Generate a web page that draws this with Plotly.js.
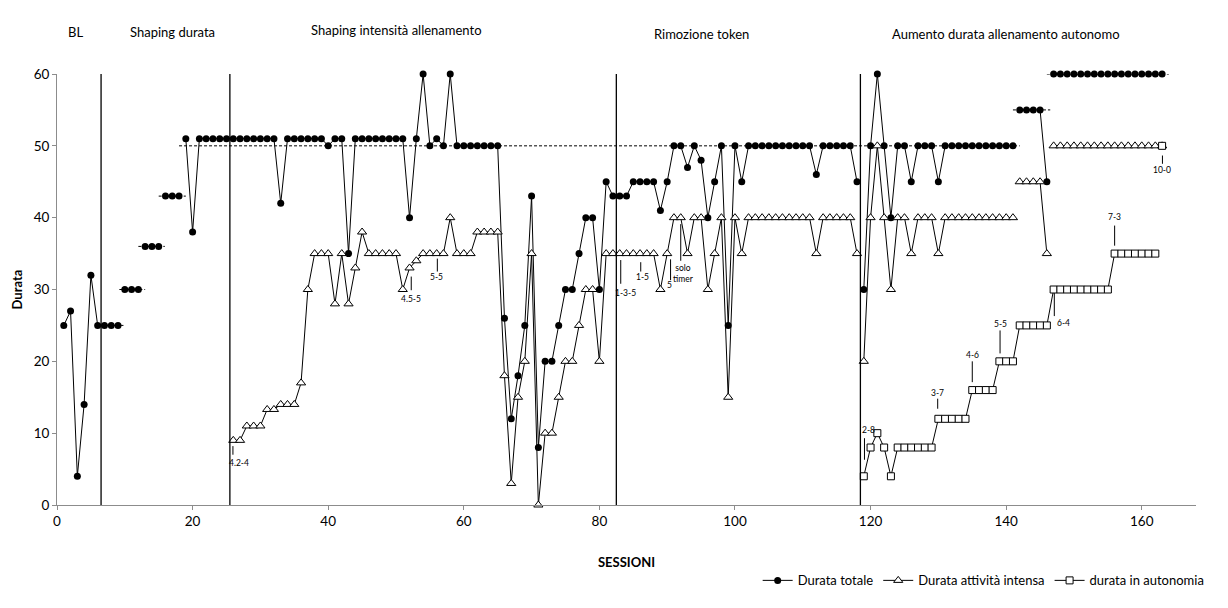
<!DOCTYPE html>
<html>
<head>
<meta charset="utf-8">
<script src="https://cdn.plot.ly/plotly-3.0.1.min.js"></script>
<style>html,body{margin:0;padding:0;background:#fff;}#chart{width:1228px;height:608px;}</style>
</head>
<body>
<div id="chart"></div>
<script>
// ---- DATA ----
// Sessions 1..163
const durataTotale = [
  25,27,4,14,32,25,25,25,25,30,
  30,30,36,36,36,43,43,43,51,38,
  51,51,51,51,51,51,51,51,51,51,
  51,51,42,51,51,51,51,51,51,50,
  51,51,35,51,51,51,51,51,51,51,
  51,40,51,60,50,51,50,60,50,50,
  50,50,50,50,50,26,12,18,25,43,
  8,20,20,25,30,30,35,40,40,30,
  45,43,43,43,45,45,45,45,41,45,
  50,50,47,50,48,40,45,50,25,50,
  45,50,50,50,50,50,50,50,50,50,
  50,46,50,50,50,50,50,45,30,50,
  60,50,40,50,50,45,50,50,50,45,
  50,50,50,50,50,50,50,50,50,50,
  50,55,55,55,55,45,60,60,60,60,
  60,60,60,60,60,60,60,60,60,60,
  60,60,60
];
const durataIntensa = [
  null,null,null,null,null,null,null,null,null,null,
  null,null,null,null,null,null,null,null,null,null,
  null,null,null,null,null,9,9,11,11,11,
  13.3,13.3,14,14,14,17,30,35,35,35,
  28,35,28,33,38,35,35,35,35,35,
  30,33,34,35,35,35,35,40,35,35,
  35,38,38,38,38,18,3,15,20,35,
  0,10,10,15,20,20,25,30,30,20,
  35,35,35,35,35,35,35,35,30,35,
  40,40,35,40,40,30,35,40,15,40,
  35,40,40,40,40,40,40,40,40,40,
  40,35,40,40,40,40,40,35,20,40,
  50,40,30,40,40,35,40,40,40,35,
  40,40,40,40,40,40,40,40,40,40,
  40,45,45,45,45,35,50,50,50,50,
  50,50,50,50,50,50,50,50,50,50,
  50,50,50
];
const durataAutonomia = [
  null,null,null,null,null,null,null,null,null,null,
  null,null,null,null,null,null,null,null,null,null,
  null,null,null,null,null,null,null,null,null,null,
  null,null,null,null,null,null,null,null,null,null,
  null,null,null,null,null,null,null,null,null,null,
  null,null,null,null,null,null,null,null,null,null,
  null,null,null,null,null,null,null,null,null,null,
  null,null,null,null,null,null,null,null,null,null,
  null,null,null,null,null,null,null,null,null,null,
  null,null,null,null,null,null,null,null,null,null,
  null,null,null,null,null,null,null,null,null,null,
  null,null,null,null,null,null,null,null,4,8,
  10,8,4,8,8,8,8,8,8,12,
  12,12,12,12,16,16,16,16,20,20,
  20,25,25,25,25,25,30,30,30,30,
  30,30,30,30,30,35,35,35,35,35,
  35,35,50
];
// sessions after which the line is interrupted
const interruzioniTotale = [9,12,15,18,118,141,146];
const interruzioniIntensa = [118,141,146];
const interruzioniAutonomia = [162];

// criterion (dashed) levels and their session spans
const criterioLivello = [25, 30, 36, 43, 50, 55, 60];
const criterioDa      = [6.5, 9.2, 12, 15, 18, 141, 146];
const criterioA       = [9.8, 13, 15.9, 19, 142, 146.5, 164];

// phase changes
const cambiFase = [6.5, 25.5, 82.5, 118.5];
const fasi = ['BL', 'Shaping durata', 'Shaping intensità allenamento', 'Rimozione token', 'Aumento durata allenamento autonomo'];

const xTicks = [0, 20, 40, 60, 80, 100, 120, 140, 160];
const yTicks = [0, 10, 20, 30, 40, 50, 60];

// ---- BUILD ----
function serie(vals, breaks) {
  const x = [], y = [];
  vals.forEach((v, i) => {
    const s = i + 1;
    if (v === null) return;
    x.push(s); y.push(v);
    if (breaks.includes(s)) { x.push(s + 0.5); y.push(null); }
  });
  return {x, y};
}
const tot = serie(durataTotale, interruzioniTotale);
const inte = serie(durataIntensa, interruzioniIntensa);
const aut = serie(durataAutonomia, interruzioniAutonomia);

const cx = [], cy = [];
criterioLivello.forEach((lv, i) => {
  cx.push(criterioDa[i], criterioA[i], null);
  cy.push(lv, lv, null);
});

const FONT = 'Lato, "Open Sans", "DejaVu Sans", sans-serif';

const traces = [
  {x: cx, y: cy, mode: 'lines', showlegend: false, hoverinfo: 'skip',
   line: {color: '#000', width: 1, dash: '3px,2px'}, cliponaxis: false},
  {x: tot.x, y: tot.y, name: 'Durata totale', mode: 'lines+markers', cliponaxis: false,
   line: {color: '#000', width: 1},
   marker: {symbol: 'circle', size: 7, color: '#000', line: {color: '#000', width: 0}}},
  {x: inte.x, y: inte.y, name: 'Durata attività intensa', mode: 'lines+markers', cliponaxis: false,
   line: {color: '#000', width: 1},
   marker: {symbol: 'triangle-up', size: 8, color: '#fff', line: {color: '#000', width: 1}}},
  {x: aut.x, y: aut.y, name: 'durata in autonomia', mode: 'lines+markers', cliponaxis: false,
   line: {color: '#000', width: 1},
   marker: {symbol: 'square', size: 7, color: '#fff', line: {color: '#000', width: 1}}}
];

// layout positions for the small notes
const note = [
  {t: '4.2-4', x: 25.95, y1: 8.2, y2: 7.0, tx: 26.9, ty: 5.9},
  {t: '4.5-5', x: 52.25, y1: 31.8, y2: 29.9, tx: 52.25, ty: 28.7},
  {t: '5-5', x: 56.1, y1: 34.3, y2: 32.5, tx: 56.0, ty: 31.7},
  {t: '1-3-5', x: 83.15, y1: 34.1, y2: 30.8, tx: 83.9, ty: 29.5},
  {t: '1-5', x: 86.1, y1: 33.8, y2: 32.5, tx: 86.3, ty: 31.7},
  {t: '5', x: 90.5, y1: 34.2, y2: 31.3, tx: 90.4, ty: 30.6},
  {t: 'solo<br>timer', x: 92.0, y1: 39.1, y2: 34.0, tx: 92.4, ty: 32.2},
  {t: '2-8', x: 119.1, y1: 9.3, y2: 6.3, tx: 119.7, ty: 10.4},
  {t: '3-7', x: 129.9, y1: 14.8, y2: 13.4, tx: 129.9, ty: 15.6},
  {t: '4-6', x: 135.0, y1: 20.0, y2: 17.1, tx: 135.0, ty: 20.9},
  {t: '5-5', x: 139.1, y1: 24.3, y2: 21.1, tx: 139.1, ty: 25.2},
  {t: '6-4', x: 147.1, y1: 29.5, y2: 26.3, tx: 148.4, ty: 25.3},
  {t: '7-3', x: 156.0, y1: 38.9, y2: 36.1, tx: 156.0, ty: 40.1},
  {t: '10-0', x: 163.05, y1: 48.65, y2: 47.5, tx: 163.05, ty: 46.6}
];
const faseX = [2.8, 17.0, 50.1, 95.1, 140.0];
const faseY = [1.098, 1.098, 1.102, 1.093, 1.093];

const shapes = cambiFase.map(v => ({type: 'line', xref: 'x', yref: 'y', x0: v, x1: v, y0: 0, y1: 60,
  line: {color: '#000', width: 1.3}, layer: 'above'}));
note.forEach(n => shapes.push({type: 'line', xref: 'x', yref: 'y', x0: n.x, x1: n.x, y0: n.y1, y1: n.y2,
  line: {color: '#000', width: 1}}));

const annotations = [];
note.forEach(n => annotations.push({x: n.tx, y: n.ty, xref: 'x', yref: 'y', text: n.t, showarrow: false,
  font: {family: FONT, size: 8.5, color: '#000'}, xanchor: 'center', yanchor: 'middle'}));
fasi.forEach((f, i) => annotations.push({x: faseX[i], y: faseY[i], xref: 'x', yref: 'paper', text: f, showarrow: false,
  font: {family: FONT, size: 13, color: '#000'}, xanchor: 'center', yanchor: 'middle'}));

const layout = {
  width: 1228, height: 608,
  margin: {l: 57, r: 32, t: 74, b: 103},
  paper_bgcolor: '#fff', plot_bgcolor: '#fff',
  font: {family: FONT, color: '#000'},
  showlegend: true,
  legend: {orientation: 'h', x: 1.012, xanchor: 'right', y: -0.175, yanchor: 'middle',
    font: {family: FONT, size: 13, color: '#000'}, bgcolor: 'rgba(0,0,0,0)', itemwidth: 30,
    tracegroupgap: 0},
  xaxis: {range: [0, 168], tickvals: xTicks, ticktext: xTicks.map(String), showgrid: false, zeroline: false,
    showline: true, linecolor: '#8c8c8c', linewidth: 1, ticks: 'outside', ticklen: 4, tickcolor: '#8c8c8c',
    tickfont: {family: FONT, size: 13.5, color: '#000'},
    title: {text: '<b>SESSIONI</b>', font: {family: FONT, size: 13, color: '#000'}, standoff: 29}},
  yaxis: {range: [0, 60], tickvals: yTicks, ticktext: yTicks.map(String), showgrid: false, zeroline: false,
    showline: true, linecolor: '#8c8c8c', linewidth: 1, ticks: 'outside', ticklen: 4, tickcolor: '#8c8c8c',
    tickfont: {family: FONT, size: 13.5, color: '#000'},
    title: {text: '<b>Durata</b>', font: {family: FONT, size: 13, color: '#000'}, standoff: 8}},
  shapes: shapes,
  annotations: annotations
};

Plotly.newPlot('chart', traces, layout, {displayModeBar: false, responsive: false});
</script>
</body>
</html>
